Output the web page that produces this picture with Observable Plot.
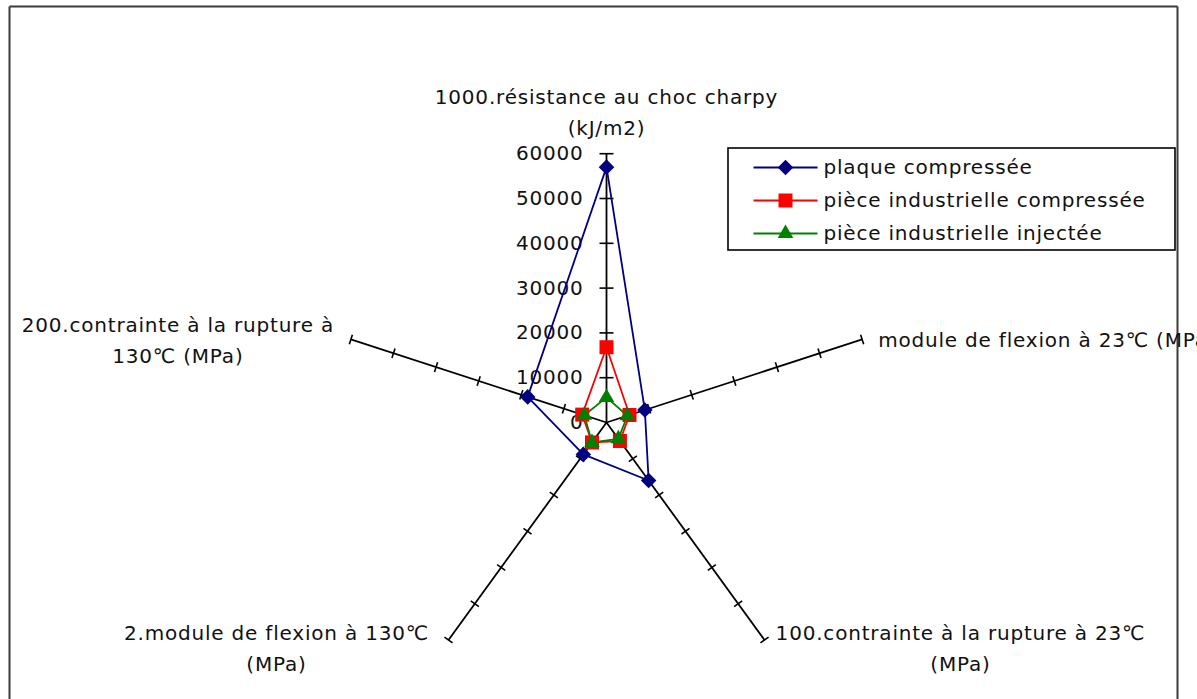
<!DOCTYPE html>
<html><head><meta charset="utf-8">
<script src="https://cdn.jsdelivr.net/npm/d3@7"></script>
<script src="https://cdn.jsdelivr.net/npm/@observablehq/plot@0.6"></script>
<style>
html,body{margin:0;padding:0;background:#fff;overflow:hidden}
#chart svg text{letter-spacing:0.8px}
</style></head><body><div id="chart"></div>
<script>
// ---- data ----
const categories = [
  "1000.résistance au choc charpy\n(kJ/m2)",
  "module de flexion à 23℃ (MPa)",
  "100.contrainte à la rupture à 23℃\n(MPa)",
  "2.module de flexion à 130℃\n(MPa)",
  "200.contrainte à la rupture à\n130℃ (MPa)"
];
const seriesNames = ["plaque compressée", "pièce industrielle compressée", "pièce industrielle injectée"];
const plaqueCompressee = [57000, 9000, 16000, 8800, 18500];
const pieceCompressee  = [16800, 5400, 5100, 5500, 5700];
const pieceInjectee    = [5600, 4900, 4500, 5500, 5200];
const tickValues = [0, 10000, 20000, 30000, 40000, 50000, 60000];
const axisMax = 60000;

// ---- layout / styles ----
const W = 1197, H = 699;
const CX = 606, CY = 422;          // centre of radar, px
const K = 4.48 / 1000;             // px per unit
const invX = px => (px - CX) / K;
const invY = py => (CY - py) / K;
const FONT = "DejaVu Sans";
const FS = 20;
const TXT = "#111";
const seriesStyles = [
  {color: "#000080", symbol: "diamond2", r: 7},
  {color: "#FF0000", symbol: "square", r: 7.9},
  {color: "#008000", symbol: "triangle", r: 5.8}
];
const seriesValues = [plaqueCompressee, pieceCompressee, pieceInjectee];
const angle = i => Math.PI / 2 - i * 2 * Math.PI / categories.length;

// axis lines
const axes = categories.map((c, i) => ({
  x1: 0, y1: 0, x2: axisMax * Math.cos(angle(i)), y2: axisMax * Math.sin(angle(i))
}));
// tick marks
const ticks = [];
categories.forEach((c, i) => {
  const a = angle(i);
  const half = (i === 0 ? 7 : 5) / K;
  tickValues.filter(t => t > 0).forEach(t => {
    const x = t * Math.cos(a), y = t * Math.sin(a);
    ticks.push({x1: x - half * Math.sin(a), y1: y + half * Math.cos(a),
                x2: x + half * Math.sin(a), y2: y - half * Math.cos(a)});
  });
});
// axis label placements (pixel offsets from the axis end)
const labelOffsets = [
  {dx: 0, dy: -44, anchor: "middle"},
  {dx: 16, dy: -2, anchor: "start"},
  {dx: 196, dy: 6, anchor: "middle"},
  {dx: -172, dy: 6, anchor: "middle"},
  {dx: -173, dy: -2, anchor: "middle"}
];
const labels = categories.map((c, i) => {
  const a = angle(i);
  const ex = axisMax * Math.cos(a), ey = axisMax * Math.sin(a);
  return {text: c, x: ex + labelOffsets[i].dx / K, y: ey - labelOffsets[i].dy / K, anchor: labelOffsets[i].anchor};
});

// series points
const seriesData = seriesNames.map((s, si) => {
  const pts = seriesValues[si].map((v, i) => ({series: s, x: v * Math.cos(angle(i)), y: v * Math.sin(angle(i))}));
  return {name: s, pts, closed: [...pts, pts[0]]};
});

const marks = [];
// frame (left, top, right)
marks.push(Plot.link([
  {x1: invX(9), y1: invY(6), x2: invX(9), y2: invY(H + 5)},
  {x1: invX(9), y1: invY(6), x2: invX(1177), y2: invY(6)},
  {x1: invX(1177), y1: invY(6), x2: invX(1177), y2: invY(H + 5)}
], {x1: "x1", y1: "y1", x2: "x2", y2: "y2", stroke: "#3a3a3a", strokeWidth: 2}));
// tick labels on first axis
marks.push(Plot.text(tickValues, {x: () => 0, y: d => d, text: d => String(d), dx: -23, textAnchor: "end",
  fontFamily: FONT, fontSize: FS, fill: TXT}));
// axes
marks.push(Plot.link(axes, {x1: "x1", y1: "y1", x2: "x2", y2: "y2", stroke: "black", strokeWidth: 1.8}));
marks.push(Plot.link(ticks, {x1: "x1", y1: "y1", x2: "x2", y2: "y2", stroke: "black", strokeWidth: 1.6}));
// axis labels
labels.forEach(l => {
  marks.push(Plot.text([l], {x: "x", y: "y", text: "text", textAnchor: l.anchor, lineHeight: 1.55,
    fontFamily: FONT, fontSize: FS, fill: TXT}));
});
// series
seriesData.forEach((s, si) => {
  const st = seriesStyles[si];
  marks.push(Plot.line(s.closed, {x: "x", y: "y", stroke: st.color, strokeWidth: 1.8}));
});
seriesData.forEach((s, si) => {
  const st = seriesStyles[si];
  marks.push(Plot.dot(s.pts, {x: "x", y: "y", symbol: () => st.symbol, r: st.r, fill: st.color, stroke: "none"}));
});
// legend
const LX1 = 728, LX2 = 1175, LY1 = 148, LY2 = 250;
marks.push(Plot.rect([{x1: invX(LX1), x2: invX(LX2), y1: invY(LY1), y2: invY(LY2)}],
  {x1: "x1", x2: "x2", y1: "y1", y2: "y2", fill: "white", stroke: "black", strokeWidth: 1.6}));
seriesNames.forEach((name, si) => {
  const st = seriesStyles[si];
  const py = 167 + 33 * si;
  marks.push(Plot.link([{x1: invX(753), x2: invX(817), y: invY(py)}],
    {x1: "x1", x2: "x2", y1: "y", y2: "y", stroke: st.color, strokeWidth: 1.8}));
  marks.push(Plot.dot([{x: invX(785), y: invY(py)}],
    {x: "x", y: "y", symbol: () => st.symbol, r: st.r, fill: st.color, stroke: "none"}));
  marks.push(Plot.text([{x: invX(823), y: invY(py), t: name}],
    {x: "x", y: "y", text: "t", textAnchor: "start", fontFamily: FONT, fontSize: FS, fill: TXT}));
});

const chart = Plot.plot({
  width: W, height: H,
  marginLeft: 0, marginRight: 0, marginTop: 0, marginBottom: 0,
  x: {domain: [invX(0), invX(W)], range: [0, W], axis: null},
  y: {domain: [invY(H), invY(0)], range: [H, 0], axis: null},
  style: {background: "white", overflow: "hidden"},
  marks
});
document.getElementById("chart").appendChild(chart);
</script></body></html>
